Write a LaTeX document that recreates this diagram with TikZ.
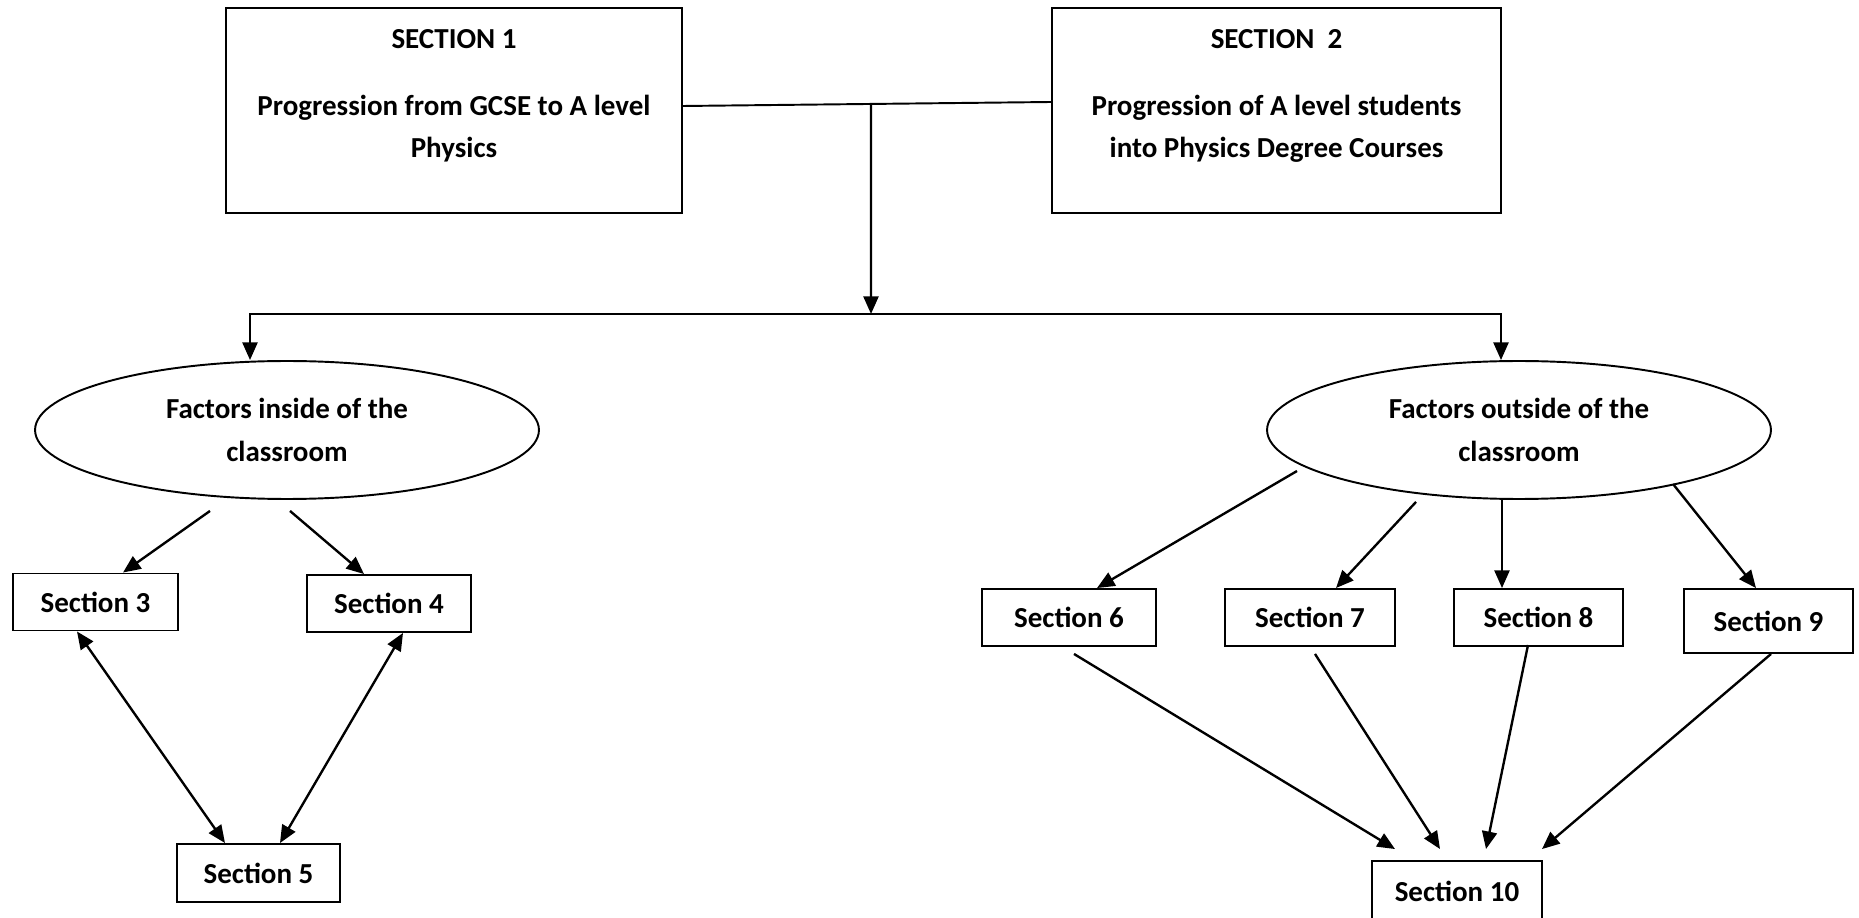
\documentclass[tikz,border=0pt]{standalone}
\usepackage{fontspec}
\setmainfont{Carlito}
\usetikzlibrary{arrows.meta, positioning, shapes.geometric, calc}

\begin{document}
\begin{tikzpicture}[
  x=0.02cm, y=0.02cm,
  every node/.style={font=\fontsize{16.5}{24}\selectfont\bfseries},
  topbox/.style={rectangle, draw, line width=1.1pt, minimum width=9.12cm, minimum height=4.1cm, inner sep=0pt, align=center},
  factor/.style={ellipse, draw, line width=1.1pt, minimum width=10.08cm, minimum height=2.76cm, inner sep=0pt, align=center},
  secbox/.style={rectangle, draw, line width=1.1pt, minimum width=3.36cm, minimum height=1.14cm, inner sep=0pt},
  link/.style={-{Triangle[length=10pt, width=8.5pt]}, line width=1.35pt},
  twoway/.style={{Triangle[length=10pt, width=8.5pt]}-{Triangle[length=10pt, width=8.5pt]}, line width=1.35pt},
]
\useasboundingbox (0,0) rectangle (1859,-918);

% Sections 1 and 2
\node[topbox] (s1) at (454,-110.5) {SECTION 1\\[14pt]Progression from GCSE to A level\\Physics\\[-5pt]\mbox{}};
\node[topbox, minimum width=8.98cm] (s2) at (1276.5,-110.5) {SECTION~~2\\[14pt]Progression of A level students\\into Physics Degree Courses\\[-5pt]\mbox{}};

% Factors
\node[factor] (inside) at (287,-430) {Factors inside of the\\classroom};
\node[factor] (outside) at (1519,-430) {Factors outside of the\\classroom};

% Section boxes
\node[secbox, minimum width=3.3cm] (sec3) at (95.5,-602) {Section 3};
\node[secbox, minimum width=3.28cm] (sec4) at (389,-603.5) {Section 4};
\node[secbox, minimum width=3.26cm, minimum height=1.16cm] (sec5) at (258.5,-873) {Section 5};
\node[secbox, minimum width=3.48cm] (sec6) at (1069,-617.5) {Section 6};
\node[secbox, minimum width=3.4cm] (sec7) at (1310,-617.5) {Section 7};
\node[secbox, minimum width=3.38cm] (sec8) at (1538.5,-617.5) {Section 8};
\node[secbox, minimum width=3.38cm, minimum height=1.28cm] (sec9) at (1768.5,-621) {Section 9};
\node[secbox, minimum width=3.4cm, minimum height=1.2cm] (sec10) at (1457,-891) {Section 10};

% Joining line and split
\draw[line width=1.1pt] ($(s1.east)+(0,4.5)$) -- ($(s2.west)+(0,8.5)$);
\coordinate (join) at ($(s1.east)!0.5!(s2.west)+(4,6)$);
\coordinate (bus) at (871,-314);
\draw[link] (join) -- (bus);
\draw[link] (bus) -| ($(inside.north)+(-37,0)$);
\draw[link] (bus) -| ($(outside.north)+(-18,0)$);

% Inside of the classroom
\draw[link] ($(inside.south)+(-77,-11)$) -- ($(sec3.north)+(27.5,0)$);
\draw[link] ($(inside.south)+(3,-11)$) -- ($(sec4.north)+(-25,0)$);
\draw[twoway] ($(sec3.south)+(-18.5,0)$) -- ($(sec5.north)+(-33.5,0)$);
\draw[twoway] ($(sec4.south)+(14,0)$) -- ($(sec5.north)+(21.5,0)$);

% Outside of the classroom
\draw[link] ($(outside.center)+(-222,-41)$) -- ($(sec6.north)+(28,0)$);
\draw[link] ($(outside.south)+(-103,-2)$) -- ($(sec7.north)+(26,0)$);
\draw[link] ($(outside.south)+(-17,0)$) -- ($(sec8.north)+(-36.5,0)$);
\draw[link] ($(outside.center)+(154,-54)$) -- ($(sec9.north)+(-12.5,0)$);

% Into section 10
\draw[link] ($(sec6.south)+(5,-7)$) -- ($(sec10.north)+(-62,11)$);
\draw[link] ($(sec7.south)+(5,-7)$) -- ($(sec10.north)+(-17,11)$);
\draw[link] ($(sec8.south)+(-10.5,2)$) -- ($(sec10.north)+(29,11)$);
\draw[link] ($(sec9.south)+(2.5,0)$) -- ($(sec10.north)+(85,11)$);

\end{tikzpicture}
\end{document}
